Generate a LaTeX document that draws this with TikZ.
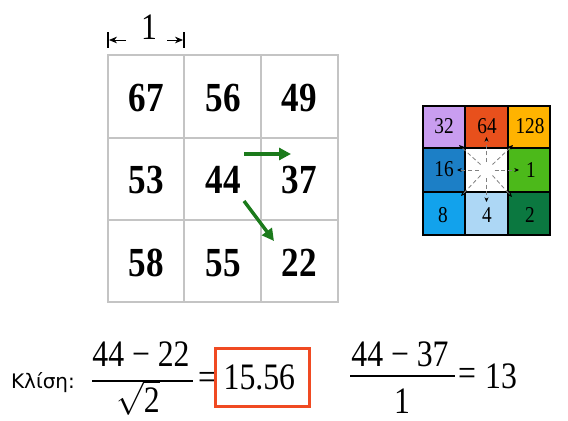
\documentclass[tikz,border=0pt]{standalone}
\usepackage{amsmath}
\usepackage{fontspec}
\setmainfont[FakeStretch=0.85]{Liberation Serif}
\newfontfamily\labelfont{DejaVu Sans}
\usetikzlibrary{arrows.meta}

\definecolor{gridgray}{HTML}{C4C4C4}
\definecolor{arrowgreen}{HTML}{1B7A1B}
\definecolor{boxred}{HTML}{F04A22}
\definecolor{clav}{HTML}{C99DF0}
\definecolor{cred}{HTML}{E8501C}
\definecolor{corange}{HTML}{FFB300}
\definecolor{cblue}{HTML}{1C7FC6}
\definecolor{cgreen}{HTML}{4CB91A}
\definecolor{csky}{HTML}{12A2EC}
\definecolor{cpale}{HTML}{ADD7F5}
\definecolor{cdark}{HTML}{0B7840}

\tikzset{
  gridline/.style={line width=2.2pt, color=gridgray},
  cellnum/.style={font=\fontsize{31}{34}\selectfont\bfseries, inner sep=0pt},
  dirnum/.style={font=\fontsize{17}{20}\selectfont, inner sep=0pt},
  fr/.style={font=\fontsize{28}{32}\selectfont, inner sep=0pt},
  slope/.style={line width=2.6pt, color=arrowgreen, -{Triangle[length=9pt,width=9pt]}},
  ray/.style={densely dashed, color=gray, line width=0.6pt, -{Stealth[length=3.5pt,width=3pt,color=black]}},
}

\begin{document}
\begin{tikzpicture}[x=0.75pt,y=-0.75pt]
  \useasboundingbox (0,0) rectangle (568,421);

  % 3x3 elevation grid
  \draw[gridline] (108,55) rectangle (338,302);
  \draw[gridline] (184,55) -- (184,302);
  \draw[gridline] (261,55) -- (261,302);
  \draw[gridline] (108,138) -- (338,138);
  \draw[gridline] (108,220) -- (338,220);

  \node[cellnum] (z11) at (146,98) {67};
  \node[cellnum] (z12) at (223,98) {56};
  \node[cellnum] (z13) at (299,98) {49};
  \node[cellnum] (z21) at (146,180) {53};
  \node[cellnum] (z22) at (223,180) {44};
  \node[cellnum] (z23) at (299,180) {37};
  \node[cellnum] (z31) at (146,263) {58};
  \node[cellnum] (z32) at (223,263) {55};
  \node[cellnum] (z33) at (299,263) {22};

  % cell size
  \node[fr] (cellsize) at (149,27) {1};
  \draw[line width=0.8pt] (108,32) -- (108,48);
  \draw[line width=0.8pt] (184,32) -- (184,48);
  \draw[line width=0.6pt, -{Stealth[length=6pt,width=5pt]}] (126,40) -- (109,40);
  \draw[line width=0.6pt, -{Stealth[length=6pt,width=5pt]}] (167,40) -- (183,40);

  % steepest descent
  \coordinate (eA) at (244,154);
  \coordinate (eB) at (291,154);
  \coordinate (sA) at (244,201);
  \coordinate (sB) at (274,241);
  \draw[slope] (eA) -- (eB);
  \draw[slope] (sA) -- (sB);

  % flow direction codes
  \fill[clav]    (423,106) rectangle (465,148);
  \fill[cred]    (465,106) rectangle (508,148);
  \fill[corange] (508,106) rectangle (550,148);
  \fill[cblue]   (423,148) rectangle (465,192);
  \fill[white]   (465,148) rectangle (508,192);
  \fill[cgreen]  (508,148) rectangle (550,192);
  \fill[csky]    (423,192) rectangle (465,235);
  \fill[cpale]   (465,192) rectangle (508,235);
  \fill[cdark]   (508,192) rectangle (550,235);
  \draw[line width=1.1pt] (423,106) rectangle (550,235);
  \draw[line width=1.1pt] (465,106) -- (465,235);
  \draw[line width=1.1pt] (508,106) -- (508,235);
  \draw[line width=1.1pt] (423,148) -- (550,148);
  \draw[line width=1.1pt] (423,192) -- (550,192);

  \node[dirnum] (d32) at (444,126) {32};
  \node[dirnum] (d64) at (487,126) {64};
  \node[dirnum] (d128) at (530,126) {128};
  \node[dirnum] (d16) at (444,169) {16};
  \node[dirnum] (d1) at (531,170) {1};
  \node[dirnum] (d8) at (443,215) {8};
  \node[dirnum] (d4) at (487,215) {4};
  \node[dirnum] (d2) at (530,215) {2};

  \coordinate (ctr) at (486.5,170);
  \draw[ray] (486.5,162) -- (486.5,137);
  \draw[ray] (478.5,170) -- (457,170);
  \draw[ray] (494.5,170) -- (519,170);
  \draw[ray] (486.5,178) -- (486.5,202);
  \draw[ray] (480.5,164.5) -- (459,145);
  \draw[ray] (492.5,164.5) -- (513,145);
  \draw[ray] (480.5,175.5) -- (461,196);
  \draw[ray] (492.5,175.5) -- (512,197);

  % slopes
  \node[font=\labelfont\fontsize{15}{18}\selectfont, inner sep=0pt] (klisi) at (43,383) {Κλίση:};

  \node[fr] (numA) at (141,354) {44 − 22};
  \node[fr] (denA) at (138,398) {$\sqrt{\text{2}}$};
  \draw[line width=1.3pt] (92,381) -- (193,381);
  \node[fr] (eqA) at (207,381) {=};
  \node[fr, draw=boxred, line width=2.2pt, minimum width=71pt, minimum height=43pt] (resA) at (262.5,377.5) {15.56\,};

  \node[fr] (numB) at (400,354) {44 − 37};
  \node[fr] (denB) at (402,401) {1};
  \draw[line width=1.3pt] (350,376) -- (455,376);
  \node[fr] (eqB) at (467,377) {=};
  \node[fr] (resB) at (501,376) {13};
\end{tikzpicture}
\end{document}
